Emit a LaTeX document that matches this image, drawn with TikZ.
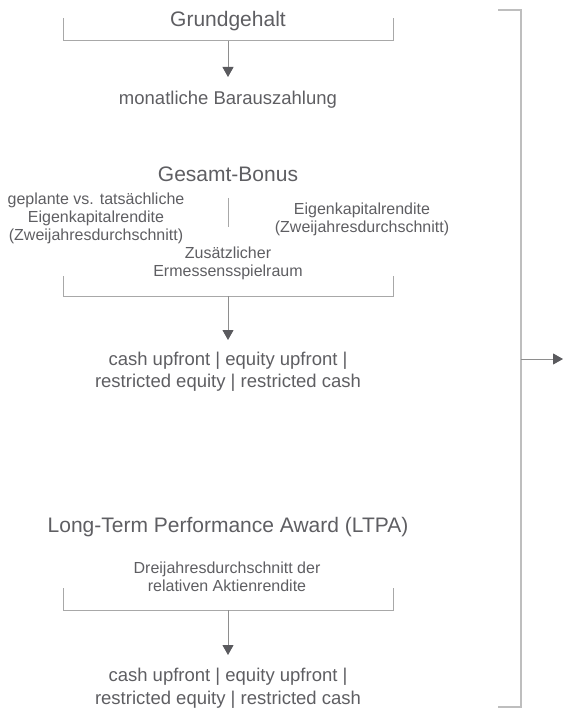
\documentclass[tikz,border=0pt]{standalone}
\usepackage{fontspec}
\setmainfont{Liberation Sans}
\usepackage{tikz}
\usetikzlibrary{arrows.meta, calc}
\definecolor{textgray}{HTML}{5E5E62}
\definecolor{linegray}{HTML}{A8A8A8}
\definecolor{stemgray}{HTML}{8E8E8E}
\definecolor{tipgray}{HTML}{5A5A5E}
\definecolor{sidegray}{HTML}{BEBEBE}

\tikzset{
  head/.style={font=\fontsize{10.5}{12.6}\selectfont, text=textgray, inner sep=0pt},
  pay/.style={font=\fontsize{9.25}{11.25}\selectfont, text=textgray, align=center, inner sep=0pt},
  crit/.style={font=\fontsize{8}{9}\selectfont, text=textgray, align=center, inner sep=0pt},
  brack/.style={draw=linegray, line width=0.5pt},
  side/.style={draw=sidegray, line width=1pt},
  flow/.style={draw=stemgray, line width=0.5pt, -{Triangle[width=5.5pt,length=5pt,color=tipgray]}}
}

\begin{document}
\begin{tikzpicture}[x=0.5pt,y=-0.5pt]
        \useasboundingbox (0,0) rectangle (563,711);

        % Grundgehalt
        \node[head] (grund) at (228,21) {Grundgehalt};
        \draw[brack] (63,18) -- (63,41) -- (393,41) -- (393,18); % Klammer
        \coordinate (g1) at (228,41);
        \coordinate (g2) at (228,77);
        \draw[flow] (g1) -- (g2);
        \node[pay] (bar) at (228,100) {monatliche Barauszahlung};

        % Gesamt-Bonus
        \node[head] (bonus) at (228,174) {Gesamt-Bonus};
        \node[crit] (plan) at (96,218) {geplante vs. tatsächliche\\Eigenkapitalrendite\\(Zweijahresdurchschnitt)};
        \node[crit] (ek) at (362,219) {Eigenkapitalrendite\\(Zweijahresdurchschnitt)};
        \node[crit] (ermessen) at (228,263) {Zusätzlicher\\Ermessensspielraum};
        \coordinate (t1) at (228,198);
        \coordinate (t2) at (228,227);
        \draw[brack] (t1) -- (t2); % Trennstrich
        \draw[brack] (63,276) -- (63,296) -- (393,296) -- (393,276); % Klammer
        \coordinate (b1) at (228,296);
        \coordinate (b2) at (228,340);
        \draw[flow] (b1) -- (b2);
        \node[pay] (bonusaus) at (228,372) {cash upfront | equity upfront |\\restricted equity | restricted cash};

        % LTPA
        \node[head] (ltpa) at (228,527) {Long-Term Performance Award (LTPA)};
        \node[crit] (aktie) at (227,577) {Dreijahresdurchschnitt der\\relativen Aktienrendite};
        \draw[brack] (63,588) -- (63,610) -- (393,610) -- (393,588); % Klammer
        \coordinate (l1) at (228,610);
        \coordinate (l2) at (228,655);
        \draw[flow] (l1) -- (l2);
        \node[pay] (ltpaaus) at (228,688) {cash upfront | equity upfront |\\restricted equity | restricted cash};

        % Klammer rechts
        \draw[side] (498,10) -- (521,10) -- (521,707) -- (498,707);
        \coordinate (s1) at (521,359);
        \coordinate (s2) at (563,359);
        \draw[flow] (s1) -- (s2);

\end{tikzpicture}
\end{document}
